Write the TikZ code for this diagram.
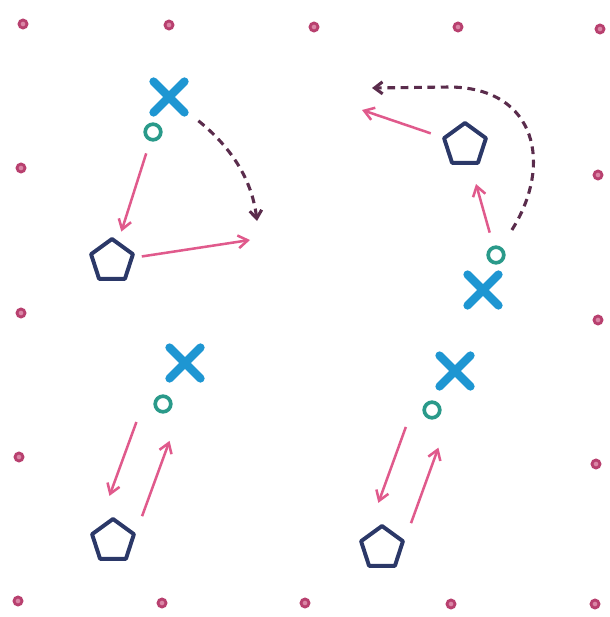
\documentclass[tikz,border=0pt]{standalone}
\usepackage{tikz}
\usetikzlibrary{arrows.meta,shapes.geometric,shapes.misc}
\definecolor{dotc}{HTML}{B8406F}
\definecolor{dotfill}{HTML}{DA86A6}
\definecolor{xc}{HTML}{1E96D2}
\definecolor{ringc}{HTML}{2A9A8A}
\definecolor{pentc}{HTML}{2B3868}
\definecolor{flowc}{HTML}{E05A8C}
\definecolor{turnc}{HTML}{5A2C4C}
\tikzset{
  gdot/.style={circle,draw=dotc,fill=dotfill,line width=2pt,minimum size=0.2cm,inner sep=0pt},
  xmark/.style={cross out,draw=xc,line width=6pt,line cap=round,minimum size=0.56cm,inner sep=0pt},
  ring/.style={circle,draw=ringc,line width=2.6pt,minimum size=0.39cm,inner sep=0pt},
  pent/.style={regular polygon,regular polygon sides=5,draw=pentc,line width=2.8pt,
    line join=round,minimum size=1.1cm,inner sep=0pt},
  flow/.style={-{Straight Barb[length=2.4mm,width=3.2mm]},draw=flowc,line width=1.8pt},
  turn/.style={-{Straight Barb[length=2mm,width=3mm]},draw=turnc,line width=2.2pt,
    dash pattern=on 5.5pt off 4pt},
}
\begin{document}
\begin{tikzpicture}[x=0.025cm,y=-0.025cm]
  \useasboundingbox (0,0) rectangle (610,617);
  % border dots
  \foreach \p [count=\i] in {(23,24),(169,25),(314,27),(458,27),(600,29),
      (21,168),(598,175),(21,313),(598,320),(19,457),(596,464),
      (18,601),(162,603),(305,603),(451,604),(595,604)}
    \node[gdot] (d\i) at \p {};

  % top left
  \node[xmark] (x1) at (169,97) {};
  \node[ring] (c1) at (153,132) {};
  \node[pent] (p1) at (112,261) {};
  \coordinate (e1) at (250,240);
  \coordinate (t1) at (257,221);
  \draw[flow,shorten <=0.32cm,shorten >=0.25cm] (c1) -- (p1);
  \draw[flow,shorten <=0.2cm] (p1) -- (e1);
  \draw[turn,shorten <=0.45cm] (x1) .. controls (232,148) and (252,180) .. (t1);

  % top right
  \node[pent] (p2) at (465,145) {};
  \node[ring] (c2) at (496,255) {};
  \node[xmark] (x2) at (483,290) {};
  \coordinate (e2) at (362,110);
  \coordinate (t2) at (372,88);
  \draw[flow,shorten <=0.34cm,shorten >=0.5cm] (c2) -- (p2);
  \draw[flow,shorten <=0.3cm] (p2) -- (e2);
  \draw[turn,shorten <=0.5cm] (c2) .. controls (553,165) and (537,88) .. (450,87) -- (t2);

  % bottom left
  \node[xmark] (x3) at (185,363) {};
  \node[ring] (c3) at (163,404) {};
  \node[pent] (p3) at (113,541) {};
  \draw[flow,shorten <=0.48cm,shorten >=1.2cm] ([xshift=-0.5cm]c3.center) -- ([xshift=-0.5cm]p3.center);
  \draw[flow,shorten <=0.66cm,shorten >=0.98cm] ([xshift=0.5cm]p3.center) -- ([xshift=0.5cm]c3.center);

  % bottom right
  \node[xmark] (x4) at (455,371) {};
  \node[ring] (c4) at (432,410) {};
  \node[pent] (p4) at (382,548) {};
  \draw[flow,shorten <=0.45cm,shorten >=1.2cm] ([xshift=-0.5cm]c4.center) -- ([xshift=-0.5cm]p4.center);
  \draw[flow,shorten <=0.66cm,shorten >=1cm] ([xshift=0.5cm]p4.center) -- ([xshift=0.5cm]c4.center);
\end{tikzpicture}
\end{document}
